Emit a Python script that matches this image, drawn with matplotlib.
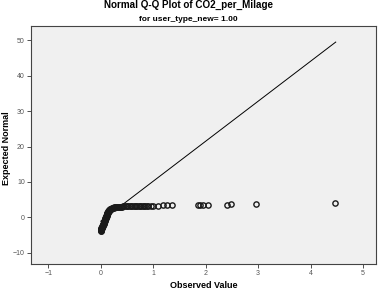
import matplotlib.pyplot as plt

plt.rcParams['font.family'] = ['Liberation Sans', 'DejaVu Sans']

obs = [0.000, 0.001, 0.003, 0.005, 0.006, 0.008, 0.010, 0.012, 0.015, 0.018,
       0.020, 0.024, 0.028, 0.031, 0.035, 0.038, 0.042, 0.045, 0.048, 0.050,
       0.053, 0.055, 0.058, 0.060, 0.063, 0.066, 0.068, 0.070, 0.073, 0.076,
       0.078, 0.080, 0.083, 0.086, 0.088, 0.090, 0.092, 0.095, 0.097, 0.100,
       0.102, 0.105, 0.107, 0.110, 0.112, 0.115, 0.117, 0.120, 0.122, 0.125,
       0.128, 0.131, 0.134, 0.137, 0.140, 0.144, 0.148, 0.153, 0.158, 0.164,
       0.170, 0.177, 0.185, 0.195, 0.205, 0.217, 0.23, 0.245, 0.26, 0.275,
       0.29, 0.305, 0.32, 0.34, 0.36, 0.38, 0.40, 0.425, 0.45, 0.475,
       0.50, 0.525, 0.55, 0.575, 0.60, 0.625, 0.65, 0.675, 0.70, 0.725,
       0.75, 0.775, 0.80, 0.825, 0.85, 0.875, 0.90, 0.95,
       1.00, 1.09, 1.18, 1.26, 1.35, 1.86, 1.90, 1.95, 2.05, 2.40,
       2.49, 2.96, 4.46]
expected = [-3.9, -3.75, -3.6, -3.5, -3.4, -3.3, -3.2, -3.1, -3.0, -2.9,
            -2.8, -2.7, -2.6, -2.5, -2.4, -2.3, -2.2, -2.1, -2.0, -1.9,
            -1.8, -1.7, -1.6, -1.5, -1.4, -1.3, -1.2, -1.1, -1.0, -0.9,
            -0.8, -0.7, -0.6, -0.5, -0.4, -0.3, -0.2, -0.1, 0.0, 0.1,
            0.2, 0.3, 0.4, 0.5, 0.6, 0.7, 0.8, 0.9, 1.0, 1.1,
            1.2, 1.3, 1.4, 1.5, 1.6, 1.7, 1.8, 1.9, 2.0, 2.1,
            2.2, 2.3, 2.4, 2.48, 2.55, 2.62, 2.7, 2.75, 2.8, 2.84,
            2.88, 2.92, 2.95, 2.98, 3.0, 3.02, 3.05, 3.06, 3.08, 3.09,
            3.1, 3.11, 3.12, 3.13, 3.14, 3.15, 3.16, 3.17, 3.18, 3.19,
            3.2, 3.21, 3.22, 3.23, 3.24, 3.25, 3.26, 3.28,
            3.3, 3.32, 3.34, 3.36, 3.38, 3.45, 3.48, 3.5, 3.53, 3.58,
            3.62, 3.75, 3.9]

# reference line end points
line_x = [0.0, 4.48]
line_y = [-1.1, 49.5]

xticks = [-1, 0, 1, 2, 3, 4, 5]
yticks = [-10, 0, 10, 20, 30, 40, 50]

fig = plt.figure(figsize=(3.83, 2.97), dpi=100)
ax = fig.add_axes([0.081, 0.111, 0.901, 0.801])
ax.set_facecolor('#f0f0f0')

ax.plot(line_x, line_y, color='black', lw=0.7)
ax.plot(obs, expected, ls='none', marker='o', ms=3.8, mfc='none',
        mec='#1a1a1a', mew=1.0)

ax.set_xlim(-1.33, 5.25)
ax.set_ylim(-13.2, 54)
ax.set_xticks(xticks)
ax.set_yticks(yticks)
ax.tick_params(labelsize=5, colors='#333333', length=3, width=0.6, pad=1.5,
               labelcolor='#555555')
for s in ax.spines.values():
    s.set_color('#444444')
    s.set_linewidth(0.8)

ax.set_xlabel('Observed Value', fontsize=6.5, fontweight='bold', labelpad=3)
fig.text(0.018, 0.5, 'Expected Normal', rotation=90, ha='center',
         va='center', fontsize=6.5, fontweight='bold')

fig.text(0.492, 0.983, 'Normal Q-Q Plot of CO2_per_Milage', ha='center',
         va='center', fontsize=7.1, fontweight='bold')
fig.text(0.492, 0.933, 'for user_type_new= 1.00', ha='center', va='center',
         fontsize=6, fontweight='bold')

fig.savefig('out.png', dpi=100)
